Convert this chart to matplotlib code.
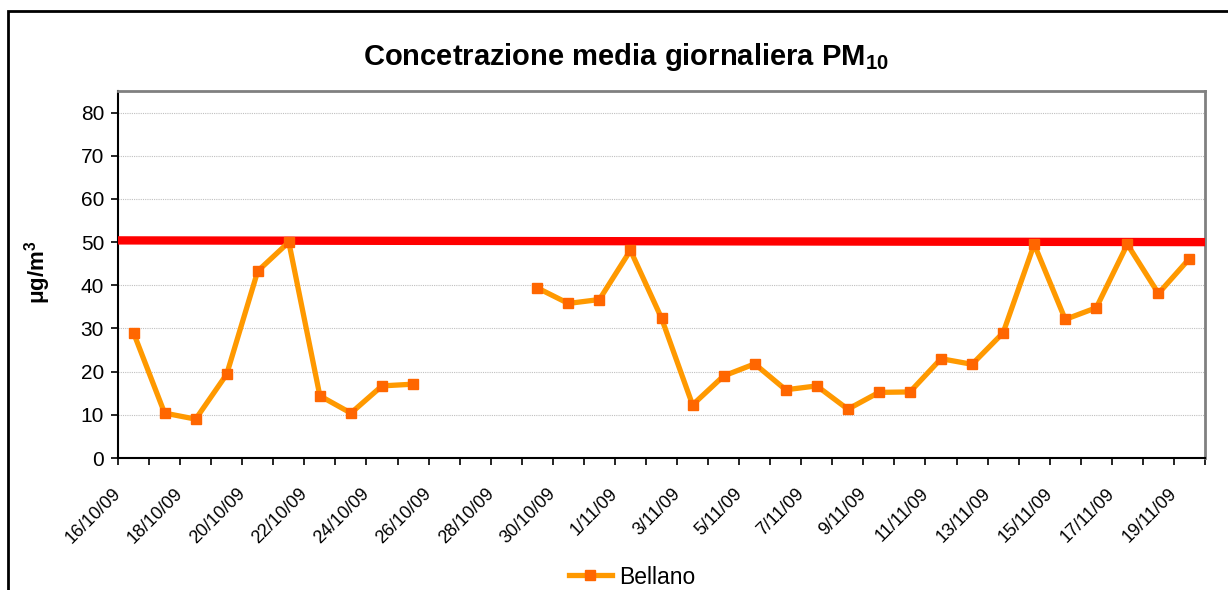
import matplotlib.pyplot as plt
import matplotlib.transforms as mtransforms
import numpy as np
from matplotlib.patches import Rectangle

plt.rcParams['font.family'] = ['Liberation Sans', 'DejaVu Sans']
plt.rcParams['mathtext.fontset'] = 'custom'
plt.rcParams['mathtext.rm'] = 'Liberation Sans'
plt.rcParams['mathtext.bf'] = 'Liberation Sans:bold'
plt.rcParams['mathtext.it'] = 'Liberation Sans:italic'

# daily dates 16/10/09 .. 19/11/09
DATES = [f'{d}/10/09' for d in range(16, 32)] + [f'{d}/11/09' for d in range(1, 20)]

# PM10 daily mean, Bellano (None = no data)
BELLANO = [29.0, 10.4, 9.0, 19.4, 43.3, 50.0, 14.4, 10.4, 16.7, 17.1,
           None, None, None,
           39.4, 35.8, 36.7, 48.1, 32.4, 12.3, 19.0, 21.8, 15.8, 16.7,
           11.3, 15.2, 15.3, 23.0, 21.7, 29.0, 49.5, 32.1, 34.8, 49.5,
           38.1, 46.2]

# limit line (start, end)
LIMIT = [50.4, 50.0]

x = np.arange(len(DATES))
y = np.array([np.nan if v is None else v for v in BELLANO])

fig = plt.figure(figsize=(12.28, 5.90), dpi=100)
ax = fig.add_axes([118 / 1228, 1 - 458 / 590, (1205 - 118) / 1228, (458 - 91) / 590])

# outer chart frame
fig.patches.append(Rectangle((8 / 1228, -0.1), 1.2, 1 - 11 / 590 + 0.1,
                             transform=fig.transFigure, fill=False,
                             edgecolor='black', linewidth=2))

ax.plot([-0.5, len(DATES) - 0.5], LIMIT, color='#ff0000', linewidth=6, zorder=3)
ax.plot(x, y, color='#ff9900', linewidth=3.8, marker='s', markersize=7.5,
        markerfacecolor='#ff6600', markeredgecolor='#ff6600', label='Bellano', zorder=4)

ax.set_xlim(-0.5, len(DATES) - 0.5)
ax.set_ylim(0, 85)
ax.set_yticks(range(0, 81, 10))
ax.tick_params(axis='y', labelsize=15, length=5, width=1.2, direction='out', pad=5)
ax.yaxis.grid(True, color='#c0c0c0', linestyle=(0, (1, 1)), linewidth=0.8)
ax.set_axisbelow(True)

# category axis: ticks at boundaries, labels every second day
ax.set_xticks(np.arange(-0.5, len(DATES), 1), minor=True)
ax.set_xticks(x[::2])
ax.set_xticklabels(DATES[::2], rotation=45, ha='right', va='center',
                   rotation_mode='anchor', fontsize=13)
ax.tick_params(axis='x', which='major', length=0, pad=24)
ax.tick_params(axis='x', which='minor', length=5, width=1.2, direction='out')
shift = mtransforms.ScaledTranslation(-0.15, 0, fig.dpi_scale_trans)
for lbl in ax.get_xticklabels():
    lbl.set_transform(lbl.get_transform() + shift)

for side in ['top', 'right']:
    ax.spines[side].set_color('#808080')
    ax.spines[side].set_linewidth(2)
for side in ['left', 'bottom']:
    ax.spines[side].set_color('black')
    ax.spines[side].set_linewidth(1.5)

fig.text(626 / 1228, 1 - 57 / 590, r'Concetrazione media giornaliera PM$_{\mathbf{10}}$',
         ha='center', va='center', fontsize=21, fontweight='bold')
fig.text(38 / 1228, 1 - 272 / 590, r'$\mathbf{\mu}$g/m$^{\mathbf{3}}$', rotation=90,
         ha='center', va='center', fontsize=16, fontweight='bold')

fig.legend(loc='center', bbox_to_anchor=(632 / 1228, 1 - 577 / 590), frameon=False,
           fontsize=16.5, handlelength=1.9, borderpad=0, handletextpad=0.3)

fig.savefig('out.png', dpi=100)
